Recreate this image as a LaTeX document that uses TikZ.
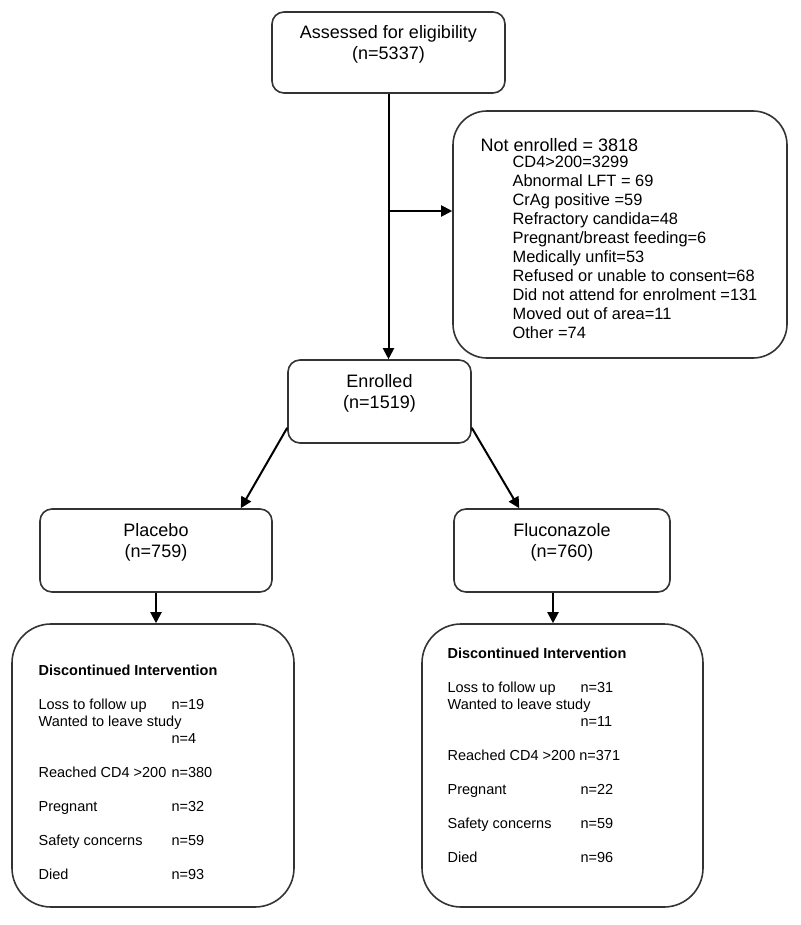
\documentclass[tikz,border=0pt]{standalone}
\usepackage{fontspec}
\setmainfont{Liberation Sans}
\usepackage{tikz}
\usetikzlibrary{shapes}
\usetikzlibrary{arrows.meta}

\newcommand{\reason}[1]{\makebox[66.5pt][l]{#1}}

\begin{document}
\begin{tikzpicture}[x=0.5pt, y=-0.5pt,
   box/.style={draw=black!80, line width=0.8pt, rectangle,
      rounded corners=6pt, inner sep=0pt, align=center,
      font=\fontsize{9}{10.5}\selectfont},
   bigbox/.style={draw=black!80, line width=0.8pt, rectangle,
      inner sep=0pt},
   arr/.style={-{Triangle[length=5.5pt,width=5.5pt]}, line width=1pt}]
\useasboundingbox (0,0) rectangle (800,925);

\node[box, 
   minimum width=116.5pt, 
   minimum height=40.5pt] (assess) at (388.5,52.5) 
  {Assessed for eligibility\\(n=5337)\\\mbox{}};

\node[bigbox, 
   rounded corners=17pt, 
   minimum width=167pt, 
   minimum height=123.5pt] (notenr) at (620,234.5) {};
\node[anchor=north west, inner sep=0pt, 
   font=\fontsize{9}{10.5}\selectfont] (notenrhead) 
   at ([xshift=14pt, yshift=-13.75pt]notenr.north west) 
  {Not enrolled = 3818};
\node[anchor=north west, inner sep=0pt, align=left, 
   font=\fontsize{8.2}{9.5}\selectfont] (notenrlist) 
   at ([xshift=30pt, yshift=-22.5pt]notenr.north west) 
  {CD4>200=3299\\
   Abnormal LFT = 69\\
   CrAg positive =59\\
   Refractory candida=48\\
   Pregnant/breast feeding=6\\
   Medically unfit=53\\
   Refused or unable to consent=68\\
   Did not attend for enrolment =131\\
   Moved out of area=11\\
   Other =74};

\node[box, 
   minimum width=91.5pt, 
   minimum height=41.5pt] (enrol) at (379.5,401.5) 
  {Enrolled\\(n=1519)\\\mbox{}};

\node[box, 
   minimum width=116pt, 
   minimum height=41.5pt] (placebo) at (156,550.5) 
  {Placebo\\(n=759)\\\mbox{}};
\node[box, 
   minimum width=108pt, 
   minimum height=41.5pt] (fluco) at (562,550.5) 
  {Fluconazole\\(n=760)\\\mbox{}};

\node[bigbox, 
   rounded corners=19.5pt, 
   minimum width=141pt, 
   minimum height=141.5pt] (stopleft) at (153,765.5) {};
\node[anchor=north west, inner sep=0pt, align=left, 
   font=\fontsize{7.25}{8.5}\selectfont] (stopleftlist) 
   at ([xshift=13.5pt, yshift=-20.5pt]stopleft.north west) 
  {\textbf{Discontinued Intervention}\\[8.5pt]
   \reason{Loss to follow up}n=19\\
   Wanted to leave study\\
   \reason{}n=4\\[8.5pt]
   \reason{Reached CD4 >200}n=380\\[8.5pt]
   \reason{Pregnant}n=32\\[8.5pt]
   \reason{Safety concerns}n=59\\[8.5pt]
   \reason{Died}n=93};

\node[bigbox, 
   rounded corners=19.5pt, 
   minimum width=140.5pt, 
   minimum height=141.5pt] (stopright) at (562.5,765.5) {};
\node[anchor=north west, inner sep=0pt, align=left, 
   font=\fontsize{7.25}{8.5}\selectfont] (stoprightlist) 
   at ([xshift=13pt, yshift=-12pt]stopright.north west) 
  {\textbf{Discontinued Intervention}\\[8.5pt]
   \reason{Loss to follow up}n=31\\
   Wanted to leave study\\
   \reason{}n=11\\[8.5pt]
   Reached CD4 >200 n=371\\[8.5pt]
   \reason{Pregnant}n=22\\[8.5pt]
   \reason{Safety concerns}n=59\\[8.5pt]
   \reason{Died}n=96};

% arrows
\coordinate (split) at (assess.south |- 0,211);
\coordinate (flucoout) at ([xshift=-4.5pt]fluco.south);

\draw[arr] (assess) -- (assess |- enrol.north);
\draw[arr] (split) -- (split -| notenr.west);
\draw[arr] ([yshift=8pt]enrol.south west) -- ([xshift=-16pt]placebo.north east);
\draw[arr] ([yshift=8pt]enrol.south east) -- ([xshift=33pt]fluco.north west);
\draw[arr] (placebo) -- (placebo |- stopleft.north);
\draw[arr] (flucoout) -- (flucoout |- stopright.north);
\end{tikzpicture}
\end{document}
